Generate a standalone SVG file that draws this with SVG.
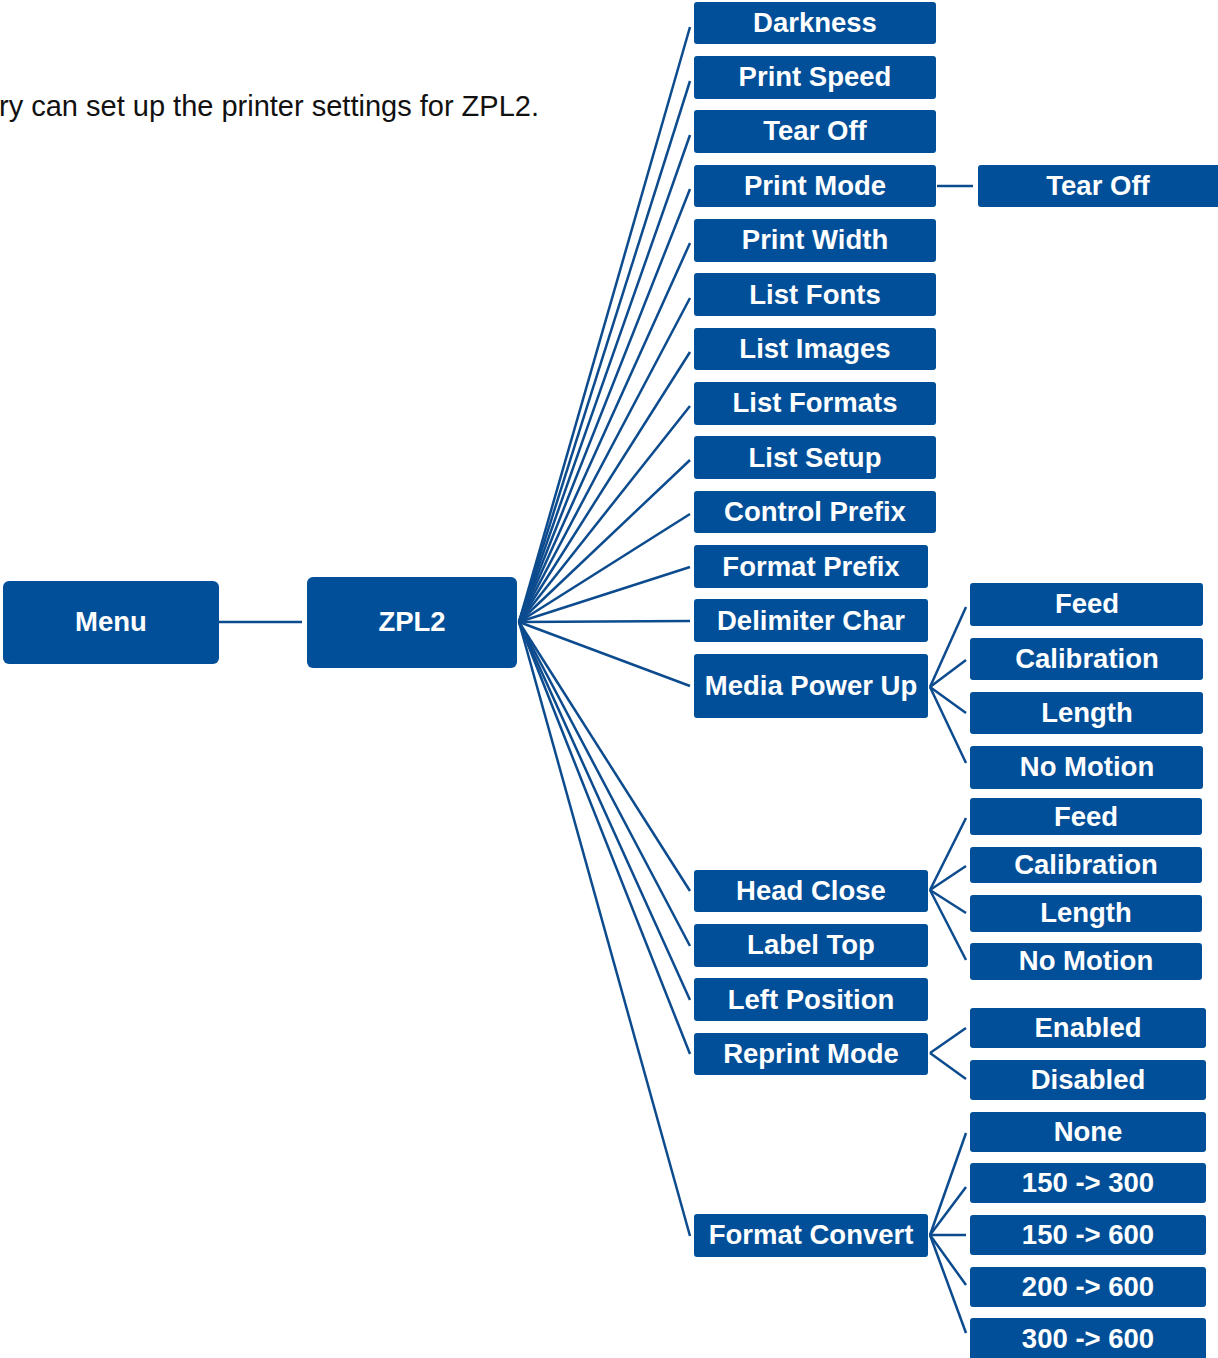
<svg xmlns="http://www.w3.org/2000/svg" width="1218" height="1358" viewBox="0 0 1218 1358">
<style>
.b{fill:#024f99}
.t{font-family:"Liberation Sans",Arial,sans-serif;font-weight:bold;font-size:27.5px;fill:#ffffff;text-anchor:middle}
.c line{stroke:#0c4b8e;stroke-width:2.5;fill:none}
.p{font-family:"Liberation Sans",Arial,sans-serif;font-size:29px;fill:#111111}
</style>
<rect width="1218" height="1358" fill="#ffffff"/>
<text class="p" x="-1" y="116">ry can set up the printer settings for ZPL2.</text>
<g class="c">
<line x1="219" y1="622" x2="302" y2="622"/>
<line x1="519" y1="622" x2="690" y2="27"/>
<line x1="519" y1="622" x2="690" y2="81"/>
<line x1="519" y1="622" x2="690" y2="135"/>
<line x1="519" y1="622" x2="690" y2="189"/>
<line x1="519" y1="622" x2="690" y2="243"/>
<line x1="519" y1="622" x2="690" y2="298"/>
<line x1="519" y1="622" x2="690" y2="352"/>
<line x1="519" y1="622" x2="690" y2="406"/>
<line x1="519" y1="622" x2="690" y2="460"/>
<line x1="519" y1="622" x2="690" y2="514"/>
<line x1="519" y1="622" x2="690" y2="567"/>
<line x1="519" y1="622" x2="690" y2="621"/>
<line x1="519" y1="622" x2="690" y2="686"/>
<line x1="519" y1="622" x2="690" y2="891"/>
<line x1="519" y1="622" x2="690" y2="946"/>
<line x1="519" y1="622" x2="690" y2="1000"/>
<line x1="519" y1="622" x2="690" y2="1054"/>
<line x1="519" y1="622" x2="690" y2="1236"/>
<line x1="937" y1="186" x2="973" y2="186"/>
<line x1="930" y1="687" x2="966" y2="607"/>
<line x1="930" y1="687" x2="966" y2="660"/>
<line x1="930" y1="687" x2="966" y2="713"/>
<line x1="930" y1="687" x2="966" y2="763"/>
<line x1="930" y1="890" x2="966" y2="818"/>
<line x1="930" y1="890" x2="966" y2="866"/>
<line x1="930" y1="890" x2="966" y2="913"/>
<line x1="930" y1="890" x2="966" y2="960"/>
<line x1="930" y1="1053" x2="966" y2="1028"/>
<line x1="930" y1="1053" x2="966" y2="1079"/>
<line x1="930" y1="1235" x2="966" y2="1133"/>
<line x1="930" y1="1235" x2="966" y2="1187"/>
<line x1="930" y1="1235" x2="966" y2="1235"/>
<line x1="930" y1="1235" x2="966" y2="1285"/>
<line x1="930" y1="1235" x2="966" y2="1333"/>
</g>
<g id="menu"><rect class="b" x="3" y="581" width="216" height="83" rx="6"/><text class="t" x="111" y="631">Menu</text></g>
<g id="zpl2"><rect class="b" x="307" y="577" width="210" height="91" rx="6"/><text class="t" x="412" y="631">ZPL2</text></g>
<g id="darkness"><rect class="b" x="694" y="2" width="242" height="42" rx="3"/><text class="t" x="815" y="32">Darkness</text></g>
<g id="print-speed"><rect class="b" x="694" y="56" width="242" height="43" rx="3"/><text class="t" x="815" y="86">Print Speed</text></g>
<g id="tear-off"><rect class="b" x="694" y="110" width="242" height="43" rx="3"/><text class="t" x="815" y="140">Tear Off</text></g>
<g id="print-mode"><rect class="b" x="694" y="165" width="242" height="42" rx="3"/><text class="t" x="815" y="195">Print Mode</text></g>
<g id="print-width"><rect class="b" x="694" y="219" width="242" height="43" rx="3"/><text class="t" x="815" y="249">Print Width</text></g>
<g id="list-fonts"><rect class="b" x="694" y="273" width="242" height="43" rx="3"/><text class="t" x="815" y="304">List Fonts</text></g>
<g id="list-images"><rect class="b" x="694" y="328" width="242" height="42" rx="3"/><text class="t" x="815" y="358">List Images</text></g>
<g id="list-formats"><rect class="b" x="694" y="382" width="242" height="43" rx="3"/><text class="t" x="815" y="412">List Formats</text></g>
<g id="list-setup"><rect class="b" x="694" y="436" width="242" height="43" rx="3"/><text class="t" x="815" y="467">List Setup</text></g>
<g id="control-prefix"><rect class="b" x="694" y="491" width="242" height="42" rx="3"/><text class="t" x="815" y="521">Control Prefix</text></g>
<g id="format-prefix"><rect class="b" x="694" y="545" width="234" height="43" rx="3"/><text class="t" x="811" y="576">Format Prefix</text></g>
<g id="delimiter-char"><rect class="b" x="694" y="599" width="234" height="43" rx="3"/><text class="t" x="811" y="630">Delimiter Char</text></g>
<g id="media-power-up"><rect class="b" x="694" y="654" width="234" height="64" rx="3"/><text class="t" x="811" y="695">Media Power Up</text></g>
<g id="head-close"><rect class="b" x="694" y="870" width="234" height="42" rx="3"/><text class="t" x="811" y="900">Head Close</text></g>
<g id="label-top"><rect class="b" x="694" y="924" width="234" height="43" rx="3"/><text class="t" x="811" y="954">Label Top</text></g>
<g id="left-position"><rect class="b" x="694" y="978" width="234" height="43" rx="3"/><text class="t" x="811" y="1009">Left Position</text></g>
<g id="reprint-mode"><rect class="b" x="694" y="1033" width="234" height="42" rx="3"/><text class="t" x="811" y="1063">Reprint Mode</text></g>
<g id="format-convert"><rect class="b" x="694" y="1214" width="234" height="43" rx="3"/><text class="t" x="811" y="1244">Format Convert</text></g>
<g id="pm-tear-off"><rect class="b" x="978" y="165" width="245" height="42" rx="3"/><text class="t" x="1098" y="195">Tear Off</text></g>
<g id="mpu-feed"><rect class="b" x="970" y="583" width="233" height="43" rx="3"/><text class="t" x="1087" y="613">Feed</text></g>
<g id="mpu-calibration"><rect class="b" x="970" y="638" width="233" height="42" rx="3"/><text class="t" x="1087" y="668">Calibration</text></g>
<g id="mpu-length"><rect class="b" x="970" y="692" width="233" height="42" rx="3"/><text class="t" x="1087" y="722">Length</text></g>
<g id="mpu-no-motion"><rect class="b" x="970" y="746" width="233" height="43" rx="3"/><text class="t" x="1087" y="776">No Motion</text></g>
<g id="hc-feed"><rect class="b" x="970" y="798" width="232" height="37" rx="3"/><text class="t" x="1086" y="826">Feed</text></g>
<g id="hc-calibration"><rect class="b" x="970" y="847" width="232" height="36" rx="3"/><text class="t" x="1086" y="874">Calibration</text></g>
<g id="hc-length"><rect class="b" x="970" y="895" width="232" height="37" rx="3"/><text class="t" x="1086" y="922">Length</text></g>
<g id="hc-no-motion"><rect class="b" x="970" y="943" width="232" height="37" rx="3"/><text class="t" x="1086" y="970">No Motion</text></g>
<g id="rm-enabled"><rect class="b" x="970" y="1008" width="236" height="40" rx="3"/><text class="t" x="1088" y="1037">Enabled</text></g>
<g id="rm-disabled"><rect class="b" x="970" y="1060" width="236" height="40" rx="3"/><text class="t" x="1088" y="1089">Disabled</text></g>
<g id="fc-none"><rect class="b" x="970" y="1112" width="236" height="40" rx="3"/><text class="t" x="1088" y="1141">None</text></g>
<g id="fc-150-300"><rect class="b" x="970" y="1163" width="236" height="40" rx="3"/><text class="t" x="1088" y="1192">150 -&gt; 300</text></g>
<g id="fc-150-600"><rect class="b" x="970" y="1215" width="236" height="40" rx="3"/><text class="t" x="1088" y="1244">150 -&gt; 600</text></g>
<g id="fc-200-600"><rect class="b" x="970" y="1267" width="236" height="40" rx="3"/><text class="t" x="1088" y="1296">200 -&gt; 600</text></g>
<g id="fc-300-600"><rect class="b" x="970" y="1318" width="236" height="44" rx="3"/><text class="t" x="1088" y="1348">300 -&gt; 600</text></g>
</svg>
